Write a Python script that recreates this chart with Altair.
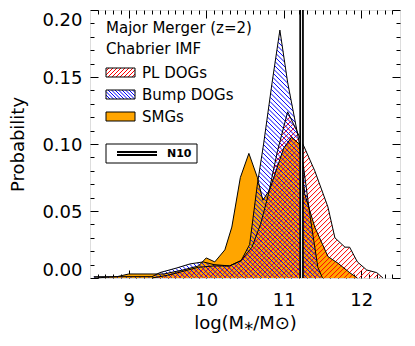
import numpy as np
import pandas as pd
import altair as alt

# ---------------- data ----------------
smg_x = [8.55, 8.85, 9.0, 9.45, 9.7, 9.9, 10.0, 10.11, 10.24, 10.33, 10.44, 10.55, 10.66,
         10.73, 10.82, 10.9, 11.0, 11.1, 11.2, 11.27, 11.4, 11.57, 11.7, 11.85, 11.95]
smg_y = [0.0, 0.001, 0.003, 0.003, 0.006, 0.009, 0.015, 0.012, 0.021, 0.038, 0.075, 0.093, 0.075,
         0.058, 0.066, 0.08, 0.097, 0.105, 0.1, 0.063, 0.038, 0.016, 0.011, 0.004, 0.0]

pl_x = [9.3, 9.5, 9.7, 9.9, 10.1, 10.3, 10.45, 10.59, 10.7, 10.8, 10.92, 11.05, 11.15,
        11.27, 11.4, 11.57, 11.66, 11.79, 11.85, 11.95, 12.07, 12.2, 12.28]
pl_y = [0.0, 0.002, 0.005, 0.008, 0.009, 0.009, 0.013, 0.023, 0.04, 0.062, 0.095, 0.124, 0.112,
        0.097, 0.08, 0.053, 0.03, 0.023, 0.023, 0.012, 0.006, 0.004, 0.0]

bump_x = [8.55, 9.3, 9.4, 9.62, 9.79, 9.96, 10.1, 10.3, 10.45, 10.56, 10.66, 10.74, 10.85,
          10.95, 11.05, 11.17, 11.25, 11.34, 11.44, 11.5]
bump_y = [0.001, 0.001, 0.004, 0.0075, 0.0105, 0.012, 0.01, 0.009, 0.013, 0.025, 0.07, 0.1, 0.146,
          0.185, 0.146, 0.11, 0.085, 0.046, 0.008, 0.0]

n10_mass = [11.23]

x_major = [9, 10, 11, 12]
x_minor = [round(8.5 + 0.1 * i, 1) for i in range(1, 40) if (i + 5) % 10 != 0]
y_major = [0.0, 0.05, 0.10, 0.15, 0.20]
y_minor = [round(0.01 * i, 2) for i in range(1, 20) if i % 5 != 0]

header_lines = ["Major Merger (z=2)", "Chabrier IMF"]
legend_labels = ["PL DOGs", "Bump DOGs", "SMGs"]
n10_label = "N10"

# ---------------- geometry ----------------
W, H = 310, 268
XD = (8.5, 12.5)
YD = (0.0, 0.2)
FONT = "DejaVu Sans"


def hatch_segments(xp, top, spacing, direction):
    """Pixel-space hatch segments of the region 0 <= y <= top(x)."""
    segs = []
    span = xp.max() + top.max() + spacing
    for c in np.arange(-span, span, spacing):
        yp = xp - c if direction > 0 else c - xp
        m = (yp >= 0) & (yp <= top)
        idx = np.flatnonzero(m)
        if idx.size < 2:
            continue
        br = np.flatnonzero(np.diff(idx) > 1)
        st = np.r_[idx[0], idx[br + 1]]
        en = np.r_[idx[br], idx[-1]]
        for s, e in zip(st, en):
            if e > s:
                segs.append((xp[s], yp[s], xp[e], yp[e]))
    return segs


def px_to_x(p):
    return XD[0] + np.asarray(p) / W * (XD[1] - XD[0])


def py_to_y(p):  # p measured upward from plot bottom
    return YD[0] + np.asarray(p) / H * (YD[1] - YD[0])


def data_hatch(xs, ys, spacing, direction):
    xp = np.arange(0, W + 0.001, 0.25)
    top = np.interp(px_to_x(xp), xs, ys, left=0, right=0) / (YD[1] - YD[0]) * H
    segs = hatch_segments(xp, top, spacing, direction)
    a = np.array(segs)
    return pd.DataFrame({"x": px_to_x(a[:, 0]), "y": py_to_y(a[:, 1]),
                         "x2": px_to_x(a[:, 2]), "y2": py_to_y(a[:, 3])})


def swatch_hatch(left, top_px, w, h, spacing, direction):
    xp = np.arange(0, w + 0.001, 0.25)
    top = np.full_like(xp, h)
    segs = np.array(hatch_segments(xp, top, spacing, direction))
    bottom = top_px + h  # plot-relative pixel (from top)
    return pd.DataFrame({"x": px_to_x(left + segs[:, 0]), "y": py_to_y(H - (bottom - segs[:, 1])),
                         "x2": px_to_x(left + segs[:, 2]), "y2": py_to_y(H - (bottom - segs[:, 3]))})


smg_df = pd.DataFrame({"x": smg_x, "y": smg_y})
pl_df = pd.DataFrame({"x": pl_x, "y": pl_y})
bump_df = pd.DataFrame({"x": bump_x, "y": bump_y})
pl_hatch = data_hatch(pl_x, pl_y, 5.0, +1)
bump_hatch = data_hatch(bump_x, bump_y, 4.5, -1)

xs = alt.Scale(domain=list(XD), nice=False, zero=False)
ys = alt.Scale(domain=list(YD), nice=False, zero=False)


def tick_axis(orient, values, size):
    return alt.Axis(orient=orient, values=values, tickSize=size, offset=-size, domain=False,
                    labels=False, title=None, grid=False, ticks=True, tickColor="black",
                    tickWidth=1)


x_main = alt.Axis(orient="bottom", values=x_major, format="d", ticks=False, domain=False,
                  grid=False, labelFont=FONT, labelFontSize=18, labelColor="black",
                  labelPadding=13, labelOverlap=False, labelFlush=False,
                  title="log(M⁎/M⊙)", titleFont=FONT, titleFontSize=18,
                  titleFontWeight="normal", titleColor="black", titlePadding=5)
y_main = alt.Axis(orient="left", values=y_major, format=".2f", ticks=False, domain=False,
                  grid=False, labelFont=FONT, labelFontSize=18, labelColor="black",
                  labelPadding=8, labelOverlap=False, labelFlush=True, labelOffset=1,
                  title="Probability", titleFont=FONT, titleFontSize=18,
                  titleFontWeight="normal", titleColor="black", titlePadding=14)

RED, BLUE, ORANGE = "#ff0000", "#0000ff", "#ffa500"

area = alt.Chart(smg_df).mark_area(color=ORANGE).encode(
    x=alt.X("x:Q", scale=xs, axis=x_main), y=alt.Y("y:Q", scale=ys, axis=y_main))

red_h = alt.Chart(pl_hatch).mark_rule(color=RED, strokeWidth=1).encode(
    x=alt.X("x:Q", scale=xs, axis=tick_axis("bottom", x_major, 8)),
    y=alt.Y("y:Q", scale=ys, axis=tick_axis("left", y_major, 8)), x2="x2:Q", y2="y2:Q")

blue_h = alt.Chart(bump_hatch).mark_rule(color=BLUE, strokeWidth=1).encode(
    x=alt.X("x:Q", scale=xs, axis=tick_axis("bottom", x_minor, 4)),
    y=alt.Y("y:Q", scale=ys, axis=tick_axis("left", y_minor, 4)), x2="x2:Q", y2="y2:Q")

smg_line = alt.Chart(smg_df).mark_line(color="black", strokeWidth=1).encode(
    x=alt.X("x:Q", scale=xs, axis=tick_axis("top", x_major, 8)),
    y=alt.Y("y:Q", scale=ys, axis=tick_axis("right", y_major, 8)))

pl_line = alt.Chart(pl_df).mark_line(color="black", strokeWidth=1).encode(
    x=alt.X("x:Q", scale=xs, axis=tick_axis("top", x_minor, 4)),
    y=alt.Y("y:Q", scale=ys, axis=tick_axis("right", y_minor, 4)))

bump_line = alt.Chart(bump_df).mark_line(color="black", strokeWidth=1).encode(
    x=alt.X("x:Q", scale=xs, axis=None), y=alt.Y("y:Q", scale=ys, axis=None))

n10_df = pd.DataFrame({"x": n10_mass})
n10_black = alt.Chart(n10_df).mark_rule(color="black", strokeWidth=4.5).encode(
    x=alt.X("x:Q", scale=xs, axis=None), y=alt.value(0), y2=alt.value(H))
n10_white = alt.Chart(n10_df).mark_rule(color="white", strokeWidth=1).encode(
    x=alt.X("x:Q", scale=xs, axis=None), y=alt.value(0), y2=alt.value(H))

# ---------------- legend (inside plot, top-left) ----------------
one = pd.DataFrame({"a": [0]})
LX = 16
txt_layers = []
for label, yc in zip(header_lines, [18, 39]):
    txt_layers.append(alt.Chart(one).mark_text(
        text=label, font=FONT, fontSize=15, color="black", align="left", baseline="middle"
    ).encode(x=alt.value(LX), y=alt.value(yc)))

sw_tops = [58, 80, 102]
sw_w, sw_h = 29, 9
for label, t in zip(legend_labels, sw_tops):
    txt_layers.append(alt.Chart(one).mark_text(
        text=label, font=FONT, fontSize=15, color="black", align="left", baseline="middle"
    ).encode(x=alt.value(LX + 36), y=alt.value(t + sw_h / 2)))

sw_red = alt.Chart(swatch_hatch(LX, sw_tops[0], sw_w, sw_h, 4.0, +1)).mark_rule(
    color=RED, strokeWidth=1).encode(
    x=alt.X("x:Q", scale=xs, axis=None), y=alt.Y("y:Q", scale=ys, axis=None),
    x2="x2:Q", y2="y2:Q")
sw_blue = alt.Chart(swatch_hatch(LX, sw_tops[1], sw_w, sw_h, 3.5, -1)).mark_rule(
    color=BLUE, strokeWidth=1).encode(
    x=alt.X("x:Q", scale=xs, axis=None), y=alt.Y("y:Q", scale=ys, axis=None),
    x2="x2:Q", y2="y2:Q")

boxes = []
for i, t in enumerate(sw_tops):
    boxes.append(alt.Chart(one).mark_rect(
        fill=ORANGE if i == 2 else "white", fillOpacity=1 if i == 2 else 0,
        stroke="black", strokeWidth=1
    ).encode(x=alt.value(LX), x2=alt.value(LX + sw_w), y=alt.value(t), y2=alt.value(t + sw_h)))

n10_box = alt.Chart(one).mark_rect(fill="white", stroke="black", strokeWidth=1).encode(
    x=alt.value(LX), x2=alt.value(LX + 91), y=alt.value(134), y2=alt.value(153))
n10_leg_b = alt.Chart(one).mark_rule(color="black", strokeWidth=5).encode(
    x=alt.value(LX + 11), x2=alt.value(LX + 51), y=alt.value(143.5))
n10_leg_w = alt.Chart(one).mark_rule(color="white", strokeWidth=1).encode(
    x=alt.value(LX + 11), x2=alt.value(LX + 51), y=alt.value(143.5))
n10_txt = alt.Chart(one).mark_text(
    text=n10_label, font=FONT, fontSize=11, fontWeight="bold", color="black",
    align="left", baseline="middle").encode(x=alt.value(LX + 61), y=alt.value(144))

chart = alt.layer(
    area, red_h, blue_h, smg_line, pl_line, bump_line, n10_black, n10_white,
    *txt_layers, sw_red, sw_blue, *boxes, n10_box, n10_leg_b, n10_leg_w, n10_txt
).resolve_axis(x="independent", y="independent").properties(
    width=W, height=H, autosize="none",
    padding={"left": 82, "top": 2, "right": 7, "bottom": 58},
).configure_view(stroke="black", strokeWidth=1.5).configure(background="white")

chart.save("out.html", embed_options={"renderer": "svg", "actions": False})
